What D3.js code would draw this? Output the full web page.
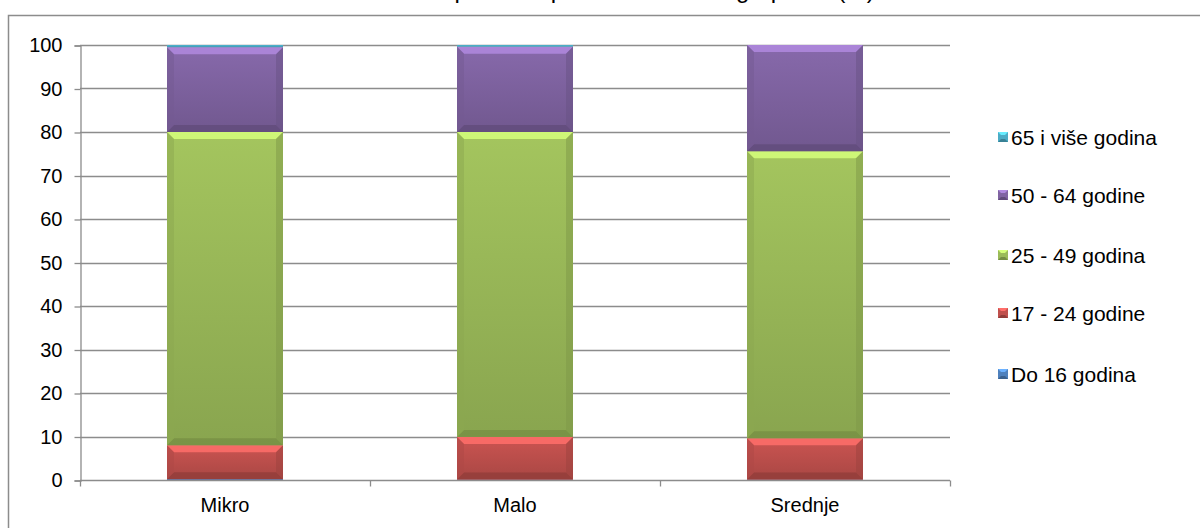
<!DOCTYPE html>
<html><head><meta charset="utf-8">
<script src="https://cdn.jsdelivr.net/npm/d3@7"></script>
<style>
html,body{margin:0;padding:0;background:#fff;}
svg{display:block;font-family:Arial,"Liberation Sans",sans-serif;}
</style></head>
<body><svg id="chart" width="1200" height="528"></svg>
<script>
const titleText = "Struktura zaposlenih prema starosnim grupama (%)";
const categories = ["Mikro", "Malo", "Srednje"];
const seriesNames = ["Do 16 godina", "17 - 24 godine", "25 - 49 godina", "50 - 64 godine", "65 i više godina"];
const do16   = [0.2, 0.1, 0.1];
const g17_24 = [7.8, 9.8, 9.5];
const g25_49 = [72.0, 70.1, 66.0];
const g50_64 = [19.5, 19.6, 24.4];
const g65    = [0.5, 0.4, 0.0];
const yTicks = [0,10,20,30,40,50,60,70,80,90,100];
const colors = ["#4F81BD", "#C0504D", "#9BBB59", "#8064A2", "#4BACC6"];

const seriesValues = [do16, g17_24, g25_49, g50_64, g65];
const rows = categories.map((c,i)=>{
  const r = {cat:c};
  seriesNames.forEach((s,k)=>{ r[s] = seriesValues[k][i]; });
  return r;
});

const svg = d3.select("#chart");
const m = {left:80, right:950, top:45, bottom:480};
const FS = 20;

// outer frame
svg.append("rect").attr("x",8.5).attr("y",15.5).attr("width",1200).attr("height",600)
  .attr("fill","#fff").attr("stroke","#8c8c8c").attr("stroke-width",1.5);

// title (cut off at top as in reference)
svg.append("text").attr("x",600).attr("y",-2).attr("text-anchor","middle")
  .attr("font-size",24).attr("fill","#000").text(titleText);

const x = d3.scaleBand().domain(categories).range([m.left, m.right]).paddingInner(0.6).paddingOuter(0.3);
const xOuter = d3.scaleBand().domain(categories).range([m.left, m.right]);
const y = d3.scaleLinear().domain([0,100]).range([m.bottom, m.top]);

// gridlines
svg.append("g").selectAll("line").data(yTicks.filter(t=>t>0)).join("line")
  .attr("x1",m.left).attr("x2",m.right)
  .attr("y1",d=>Math.round(y(d))+0.5).attr("y2",d=>Math.round(y(d))+0.5)
  .attr("stroke","#8c8c8c").attr("stroke-width",1.3);

// y axis
const yAxis = d3.axisLeft(y).tickValues(yTicks).tickSize(6).tickPadding(12);
const gy = svg.append("g").attr("transform",`translate(${m.left+0.5},0.5)`).call(yAxis);
gy.select(".domain").attr("stroke","#8c8c8c").attr("stroke-width",1.3);
gy.selectAll(".tick line").attr("stroke","#8c8c8c").attr("stroke-width",1.3);
gy.selectAll(".tick text").attr("font-size",FS).attr("fill","#000").attr("font-family","Arial, 'Liberation Sans', sans-serif");

// x axis
const gx = svg.append("g").attr("transform",`translate(0,${m.bottom+0.5})`);
gx.append("line").attr("x1",m.left).attr("x2",m.right).attr("stroke","#8c8c8c").attr("stroke-width",1.3);
const bounds = categories.map(c=>xOuter(c)).concat([m.right]);
gx.selectAll("line.tk").data(bounds).join("line").attr("class","tk")
  .attr("x1",d=>Math.round(d)+0.5).attr("x2",d=>Math.round(d)+0.5).attr("y1",0).attr("y2",6)
  .attr("stroke","#8c8c8c").attr("stroke-width",1.3);
gx.selectAll("text").data(categories).join("text")
  .attr("x",d=>xOuter(d)+xOuter.bandwidth()/2).attr("y",31)
  .attr("text-anchor","middle").attr("font-size",FS).attr("fill","#000").text(d=>d);

// stacked bars with bevel
const stack = d3.stack().keys(seriesNames)(rows);
const defs = svg.append("defs");
colors.forEach((c,k)=>{
  const g = defs.append("linearGradient").attr("id","grad"+k).attr("x1",0).attr("x2",0).attr("y1",0).attr("y2",1);
  g.append("stop").attr("offset","0%").attr("stop-color",d3.color(c).brighter(0.15));
  g.append("stop").attr("offset","100%").attr("stop-color",d3.color(c).darker(0.35));
});

const barG = svg.append("g");
const pts = a => a.map(p=>p.join(",")).join(" ");
stack.forEach((layer,k)=>{
  const c = colors[k];
  layer.forEach((d)=>{
    const cat = d.data.cat;
    const x0 = x(cat), w = x.bandwidth();
    const yTop = y(d[1]), yBot = y(d[0]);
    const h = yBot - yTop;
    if (h <= 0.05) return;
    const g = barG.append("g");
    g.append("rect").attr("x",x0).attr("y",yTop).attr("width",w).attr("height",h)
      .attr("fill",`url(#grad${k})`);
    const b = Math.min(7, h/2);
    if (h > 3) {
      g.append("polygon").attr("points",pts([[x0,yTop],[x0+w,yTop],[x0+w-b,yTop+b],[x0+b,yTop+b]]))
        .attr("fill",d3.color(c).brighter(0.9)).attr("opacity",0.85);
      g.append("polygon").attr("points",pts([[x0,yBot],[x0+w,yBot],[x0+w-b,yBot-b],[x0+b,yBot-b]]))
        .attr("fill",d3.color(c).darker(0.8)).attr("opacity",0.75);
      g.append("polygon").attr("points",pts([[x0,yTop],[x0+b,yTop+b],[x0+b,yBot-b],[x0,yBot]]))
        .attr("fill",d3.color(c).darker(0.3)).attr("opacity",0.5);
      g.append("polygon").attr("points",pts([[x0+w,yTop],[x0+w-b,yTop+b],[x0+w-b,yBot-b],[x0+w,yBot]]))
        .attr("fill",d3.color(c).darker(0.6)).attr("opacity",0.5);
    }
  });
});

// legend
const legendY = [374, 313, 255, 195, 137];
const lg = svg.append("g");
seriesNames.forEach((s,k)=>{
  const cy = legendY[k];
  const sx = 998, sz = 10;
  lg.append("rect").attr("x",sx).attr("y",cy-sz/2).attr("width",sz).attr("height",sz).attr("fill",colors[k]);
  lg.append("polygon").attr("points",pts([[sx,cy-sz/2],[sx+sz,cy-sz/2],[sx+sz-3,cy-sz/2+3],[sx+3,cy-sz/2+3]]))
    .attr("fill",d3.color(colors[k]).brighter(0.9));
  lg.append("polygon").attr("points",pts([[sx,cy+sz/2],[sx+sz,cy+sz/2],[sx+sz-3,cy+sz/2-3],[sx+3,cy+sz/2-3]]))
    .attr("fill",d3.color(colors[k]).darker(0.8));
  lg.append("text").attr("x",1011).attr("y",cy).attr("dy","0.36em")
    .attr("font-size",21).attr("fill","#000").text(s);
});
</script></body></html>
